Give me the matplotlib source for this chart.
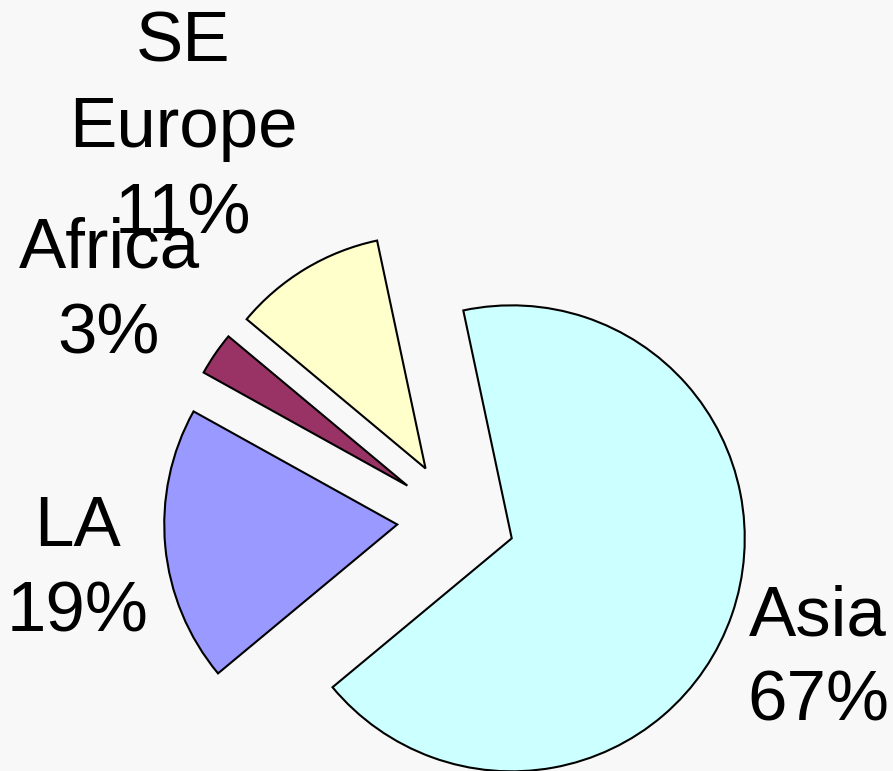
import matplotlib.pyplot as plt

# data (clockwise from the top), shares
regions = ["Asia", "LA", "Africa", "SE\nEurope"]
shares = [67.3, 19.1, 3.0, 10.6]
colors = ["#CCFFFF", "#9999FF", "#993366", "#FFFFCC"]

# label anchor: center x, first baseline y (pixels from top)
label_pos = [(818, 635), (78, 546), (109, 268), (183, 62)]
line_step = 85.5

W, H = 893, 771
fig = plt.figure(figsize=(W / 100, H / 100), dpi=100)
fig.patch.set_facecolor("#F8F8F8")
ax = fig.add_axes([0, 0, 1, 1])
ax.set_facecolor("#F8F8F8")

# pie explode offset is applied in data units here
radius = 233
ax.pie(
    shares,
    colors=colors,
    startangle=102,
    counterclock=False,
    explode=[59] * len(shares),
    center=(456, H - 519),
    radius=radius,
    wedgeprops=dict(edgecolor="black", linewidth=1.5),
)

for name, val, (x, y) in zip(regions, shares, label_pos):
    lines = name.split("\n") + [f"{val / sum(shares) * 100:.0f}%"]
    for i, line in enumerate(lines):
        ax.text(x, H - (y + i * line_step), line, ha="center", va="baseline",
                fontsize=51, family="Liberation Sans", color="black")

ax.set_xlim(0, W)
ax.set_ylim(0, H)
ax.set_aspect("equal")
ax.axis("off")

fig.savefig("out.png", dpi=100, facecolor=fig.get_facecolor())
